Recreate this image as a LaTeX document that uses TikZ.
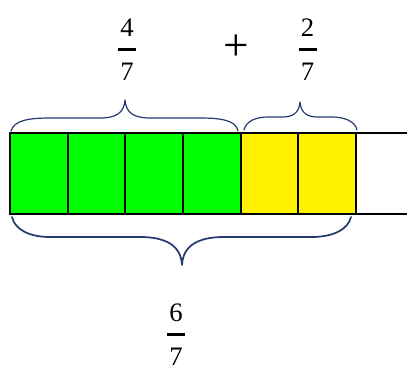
\documentclass[tikz,border=0pt]{standalone}
\usepackage{fontspec}
\setmainfont{Liberation Serif}
\newcommand{\barfrac}[2]{\shortstack{#1\\[5pt]\rule{13.5pt}{2.3pt}\\[6.5pt]#2}}
\definecolor{bracenavy}{RGB}{38,58,110}
\tikzset{
  cell/.style={draw, line width=1.3pt, minimum width=43.25pt, minimum height=60.75pt, inner sep=0pt, outer sep=0pt},
  brace/.style={draw=bracenavy, line width=0.9pt, line join=round, line cap=round},
  frac/.style={font=\fontsize{20}{24}\selectfont, inner sep=0pt}
}

\begin{document}
\begin{tikzpicture}[x=0.75pt, y=-0.75pt]
  \useasboundingbox (0,0) rectangle (407,372);

  % the bar: four green sevenths, two yellow ones
  \foreach \i/\col in {1/green,2/green,3/green,4/green,5/yellow,6/yellow}
    \node[cell, fill=\col] (c\i) at ({38.83+57.67*(\i-1)},173.5) {};
  \coordinate (rim) at (407,0);
  \draw[line width=1.3pt] (c6.north east) -- (c6.north east -| rim);
  \draw[line width=1.3pt] (c6.south east) -- (c6.south east -| rim);

  % braces
  \draw[brace] (11,131) .. controls (14,120) and (30,118) .. (50,118) -- (100,118)
    .. controls (116,118) and (124,113) .. (125,100)
    .. controls (126,113) and (134,118) .. (150,118) -- (200,118)
    .. controls (220,118) and (236,120) .. (238,131);
  \draw[brace] (244,130) .. controls (246,121) and (256,117) .. (268,117) -- (282,117)
    .. controls (293,117) and (299,113) .. (300,102)
    .. controls (301,113) and (307,117) .. (318,117) -- (332,117)
    .. controls (344,117) and (355,121) .. (357,130);
  \draw[brace, line width=1.3pt] (12,217) .. controls (15,230) and (30,237) .. (50,237) -- (140,237)
    .. controls (165,237) and (181,245) .. (182,265)
    .. controls (183,245) and (199,237) .. (224,237) -- (312,237)
    .. controls (332,237) and (348,230) .. (351,217);

  % fractions
  \node[frac] (four) at (127,50) {\barfrac{4}{7}};
  \node[frac, font=\fontsize{34}{38}\selectfont] (plus) at (236,47.5) {+};
  \node[frac] (two) at (307.5,50) {\barfrac{2}{7}};
  \node[frac] (six) at (176,335) {\barfrac{6}{7}};
\end{tikzpicture}
\end{document}
